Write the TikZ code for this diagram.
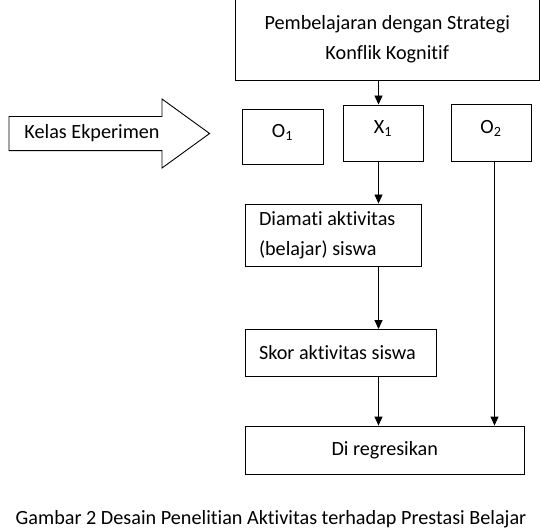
\documentclass[tikz,border=0pt]{standalone}
\usepackage{fontspec}
\setmainfont{Carlito}[Ligatures={NoCommon}]
\usetikzlibrary{arrows.meta, positioning, calc}
\definecolor{ink}{HTML}{000000}
\tikzset{
  font=\fontsize{20.2}{30}\selectfont,
  >={Triangle[length=9pt, width=8pt]},
  %
  box/.style={draw=ink, line width=0.9pt, fill=white, inner sep=0pt,
              align=flush center, text=ink},
  boxl/.style={box, align=flush left, inner xsep=14pt},
  obs/.style={box, text depth=12pt},
  %
  flow/.style={draw=ink, line width=0.9pt, ->},
  bigarrow/.style={draw=ink, line width=0.9pt, fill=white},
  lbl/.style={text=ink, inner sep=2pt},
}
\begin{document}
\begin{tikzpicture}[x=1pt, y=-1pt]
  \useasboundingbox (0,0) rectangle (540,529);

  \node[box, minimum width=303.5pt, minimum height=82pt] (treat) at (387.25,39)
    {Pembelajaran dengan Strategi\\Konflik Kognitif};

  % class arrow
  \draw[bigarrow] (9,116.5) -- (162,116.5) -- (162,99) -- (209.6,133.5)
    -- (162,168) -- (162,150.7) -- (9,150.7) -- cycle;
  \node[lbl] (kelas) at (92,133) {Kelas Ekperimen};

  \node[obs, minimum width=81pt, minimum height=55pt] (o1) at (282.5,136.5) {O\textsubscript{1}};
  \node[obs, minimum width=80pt, minimum height=56.5pt] (x1) at (383,133.25) {X\textsubscript{1}};
  \node[obs, minimum width=80pt, minimum height=57pt] (o2) at (491,132.5) {O\textsubscript{2}};

  \node[boxl, text width=148pt, minimum height=62pt] (amati) at (333,235)
    {Diamati aktivitas\\(belajar) siswa};
  \node[boxl, text width=163pt, minimum height=46.5pt] (skor) at (340.5,352.75)
    {Skor aktivitas siswa};
  \node[box, minimum width=279.5pt, minimum height=48pt] (regresi) at (384.75,450)
    {Di regresikan};

  \coordinate (ax) at (378.5,0);
  \coordinate (bx) at (494.5,0);
  \draw[flow] (treat.south -| ax) -- (x1.north -| ax);
  \draw[flow] (x1.south -| ax) -- (amati.north -| ax);
  \draw[flow] (amati.south -| ax) -- (skor.north -| ax);
  \draw[flow] (skor.south -| ax) -- (regresi.north -| ax);
  \draw[flow] (o2.south -| bx) -- (regresi.north -| bx);

  \node[lbl] (caption) at (271,519.5)
    {Gambar 2 Desain Penelitian Aktivitas terhadap Prestasi Belajar};

\end{tikzpicture}
\end{document}
